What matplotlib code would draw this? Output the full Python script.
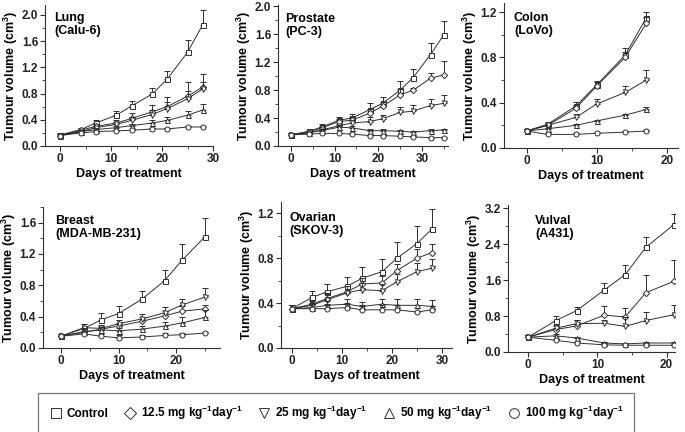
import matplotlib
matplotlib.use('Agg')
from matplotlib import pyplot as plt
from matplotlib.ticker import MultipleLocator
from matplotlib.lines import Line2D

plt.rcParams['font.family'] = ['Liberation Sans', 'DejaVu Sans']
plt.rcParams['font.weight'] = 'bold'
plt.rcParams['mathtext.fontset'] = 'custom'
plt.rcParams['mathtext.rm'] = 'Liberation Sans:bold'
plt.rcParams['mathtext.bf'] = 'Liberation Sans:bold'
plt.rcParams['mathtext.it'] = 'Liberation Sans:bold'

groups = ['Control', '12.5 mg kg$^{-1}$day$^{-1}$', '25 mg kg$^{-1}$day$^{-1}$',
          '50 mg kg$^{-1}$day$^{-1}$', '100 mg kg$^{-1}$day$^{-1}$']
markers = ['s', 'D', 'v', '^', 'o']

# ---- Lung (Calu-6)
lung_days = [0, 4, 7, 11, 14, 18, 21, 25, 28]
lung_vals = [
    [0.17, 0.25, 0.35, 0.47, 0.61, 0.79, 1.02, 1.43, 1.85],
    [0.16, 0.24, 0.30, 0.35, 0.42, 0.52, 0.60, 0.76, 0.90],
    [0.16, 0.22, 0.28, 0.33, 0.39, 0.48, 0.57, 0.72, 0.87],
    [0.16, 0.22, 0.25, 0.28, 0.31, 0.35, 0.39, 0.47, 0.55],
    [0.16, 0.20, 0.22, 0.23, 0.24, 0.26, 0.26, 0.29, 0.29],
]
lung_err = [
    [0.03, 0.03, 0.04, 0.07, 0.08, 0.10, 0.13, 0.18, 0.22],
    [0.03, 0.03, 0.04, 0.05, 0.08, 0.11, 0.15, 0.21, 0.20],
    [0.02, 0.02, 0.03, 0.04, 0.05, 0.07, 0.10, 0.12, 0.10],
    [0.02, 0.02, 0.02, 0.03, 0.03, 0.04, 0.05, 0.07, 0.09],
    [0.02, 0.01, 0.01, 0.01, 0.01, 0.01, 0.01, 0.01, 0.01],
]

# ---- Prostate (PC-3)
pros_days = [0, 4, 7, 11, 14, 18, 21, 25, 28, 32, 35]
pros_vals = [
    [0.16, 0.21, 0.27, 0.37, 0.40, 0.52, 0.61, 0.80, 0.98, 1.31, 1.59],
    [0.16, 0.20, 0.26, 0.35, 0.37, 0.47, 0.57, 0.73, 0.80, 0.97, 1.02],
    [0.16, 0.19, 0.23, 0.29, 0.33, 0.35, 0.39, 0.48, 0.50, 0.58, 0.61],
    [0.16, 0.19, 0.22, 0.27, 0.26, 0.22, 0.22, 0.21, 0.20, 0.22, 0.23],
    [0.16, 0.17, 0.18, 0.18, 0.17, 0.15, 0.15, 0.14, 0.13, 0.12, 0.12],
]
pros_err = [
    [0.02, 0.02, 0.04, 0.04, 0.06, 0.09, 0.09, 0.13, 0.13, 0.16, 0.20],
    [0.02, 0.02, 0.03, 0.04, 0.05, 0.06, 0.06, 0.08, 0.03, 0.08, 0.20],
    [0.02, 0.02, 0.02, 0.03, 0.04, 0.07, 0.06, 0.08, 0.09, 0.10, 0.12],
    [0.02, 0.01, 0.02, 0.03, 0.02, 0.02, 0.02, 0.02, 0.02, 0.02, 0.02],
    [0.02, 0.01, 0.01, 0.01, 0.01, 0.01, 0.01, 0.01, 0.01, 0.01, 0.01],
]

# ---- Colon (LoVo)
colon_days = [0, 3, 7, 10, 14, 17]
colon_vals = [
    [0.15, 0.21, 0.37, 0.56, 0.82, 1.15],
    [0.15, 0.20, 0.35, 0.55, 0.80, 1.10],
    [0.15, 0.20, 0.27, 0.39, 0.49, 0.60],
    [0.15, 0.17, 0.20, 0.24, 0.29, 0.34],
    [0.15, 0.12, 0.12, 0.13, 0.14, 0.15],
]
colon_err = [
    [0.02, 0.02, 0.04, 0.03, 0.06, 0.05],
    [0.02, 0.02, 0.03, 0.03, 0.05, 0.06],
    [0.02, 0.02, 0.03, 0.04, 0.06, 0.09],
    [0.02, 0.01, 0.01, 0.01, 0.01, 0.02],
    [0.02, 0.01, 0.01, 0.01, 0.01, 0.01],
]

# ---- Breast (MDA-MB-231)
breast_days = [0, 4, 7, 10, 14, 18, 21, 25]
breast_vals = [
    [0.15, 0.25, 0.36, 0.44, 0.62, 0.86, 1.12, 1.42],
    [0.15, 0.20, 0.24, 0.28, 0.34, 0.41, 0.47, 0.50],
    [0.15, 0.26, 0.25, 0.31, 0.37, 0.45, 0.55, 0.65],
    [0.15, 0.21, 0.23, 0.22, 0.24, 0.28, 0.32, 0.39],
    [0.15, 0.18, 0.15, 0.13, 0.14, 0.16, 0.17, 0.19],
]
breast_err = [
    [0.03, 0.06, 0.09, 0.10, 0.11, 0.14, 0.21, 0.24],
    [0.03, 0.04, 0.04, 0.04, 0.05, 0.06, 0.06, 0.05],
    [0.03, 0.05, 0.05, 0.05, 0.06, 0.07, 0.08, 0.11],
    [0.03, 0.04, 0.04, 0.04, 0.04, 0.05, 0.07, 0.10],
    [0.03, 0.03, 0.03, 0.03, 0.03, 0.03, 0.02, 0.02],
]

# ---- Ovarian (SKOV-3)
ovar_days = [0, 4, 7, 11, 14, 18, 21, 25, 28]
ovar_vals = [
    [0.35, 0.45, 0.50, 0.55, 0.62, 0.68, 0.80, 0.93, 1.06],
    [0.35, 0.39, 0.44, 0.50, 0.57, 0.58, 0.69, 0.80, 0.85],
    [0.35, 0.38, 0.43, 0.49, 0.52, 0.51, 0.59, 0.68, 0.71],
    [0.35, 0.36, 0.38, 0.39, 0.37, 0.39, 0.38, 0.38, 0.37],
    [0.35, 0.35, 0.35, 0.36, 0.34, 0.34, 0.34, 0.32, 0.34],
]
ovar_err = [
    [0.03, 0.06, 0.07, 0.08, 0.10, 0.11, 0.14, 0.16, 0.18],
    [0.03, 0.04, 0.05, 0.05, 0.05, 0.06, 0.06, 0.08, 0.08],
    [0.03, 0.04, 0.05, 0.06, 0.06, 0.06, 0.07, 0.08, 0.08],
    [0.03, 0.04, 0.04, 0.05, 0.04, 0.05, 0.06, 0.06, 0.06],
    [0.03, 0.04, 0.04, 0.04, 0.04, 0.04, 0.04, 0.04, 0.03],
]

# ---- Vulval (A431)
vulv_days = [0, 4, 7, 11, 14, 17, 21]
vulv_vals = [
    [0.33, 0.70, 0.92, 1.38, 1.72, 2.33, 2.83],
    [0.33, 0.50, 0.58, 0.82, 0.78, 1.32, 1.57],
    [0.33, 0.53, 0.63, 0.64, 0.57, 0.70, 0.83],
    [0.33, 0.36, 0.31, 0.20, 0.18, 0.20, 0.20],
    [0.33, 0.26, 0.20, 0.16, 0.15, 0.15, 0.15],
]
vulv_err = [
    [0.05, 0.10, 0.08, 0.16, 0.21, 0.22, 0.24],
    [0.05, 0.08, 0.14, 0.21, 0.20, 0.40, 0.47],
    [0.05, 0.06, 0.09, 0.08, 0.21, 0.18, 0.21],
    [0.05, 0.04, 0.03, 0.03, 0.03, 0.03, 0.03],
    [0.05, 0.03, 0.03, 0.03, 0.03, 0.03, 0.03],
]

panels = [
    ('Lung\n(Calu-6)', lung_days, lung_vals, lung_err),
    ('Prostate\n(PC-3)', pros_days, pros_vals, pros_err),
    ('Colon\n(LoVo)', colon_days, colon_vals, colon_err),
    ('Breast\n(MDA-MB-231)', breast_days, breast_vals, breast_err),
    ('Ovarian\n(SKOV-3)', ovar_days, ovar_vals, ovar_err),
    ('Vulval\n(A431)', vulv_days, vulv_vals, vulv_err),
]

# pixel boxes (left, right, top, bottom) of each axes in a 685x432 figure
boxes = [(45, 213, 5, 146), (278, 448, 5, 146), (504, 678, 3, 148),
         (43, 220, 207, 348), (281, 452, 202, 348), (508, 675, 205, 352)]
# where the panel name starts, pixels from the axes' top-left corner
name_off = [(9, 7), (7, 8), (10, 9), (12, 8), (8, 10), (27, 10)]
xlims = [(-3, 30), (-3, 36), (-3.2, 21.5), (-3.1, 27.6), (-2.2, 32), (-2.9, 21.2)]
ylims = [(0, 2.15), (0, 2.02), (0, 1.28), (0, 1.8), (0, 1.3), (0, 3.27)]
ymaj = [0.4, 0.4, 0.4, 0.4, 0.4, 0.8]
xmaj = [10, 10, 10, 10, 10, 10]

W, H = 685.0, 432.0
fig = plt.figure(figsize=(6.85, 4.32), dpi=100)
lc = '#303030'

for i, (name, days, vals, errs) in enumerate(panels):
    l, r, t, b = boxes[i]
    ax = fig.add_axes([l / W, 1 - b / H, (r - l) / W, (b - t) / H])
    for k in range(len(vals)):
        ax.errorbar(days, vals[k], yerr=[[0] * len(days), errs[k]], color=lc,
                    lw=0.7, elinewidth=0.7, capsize=2.2, capthick=0.7,
                    marker=markers[k], ms=3.6 if markers[k] != 'D' else 3.2,
                    mfc='white', mec=lc, mew=0.7, zorder=3 + k)
    ax.set_xlim(*xlims[i])
    ax.set_ylim(*ylims[i])
    ax.xaxis.set_major_locator(MultipleLocator(xmaj[i]))
    ax.xaxis.set_minor_locator(MultipleLocator(xmaj[i] / 2))
    ax.yaxis.set_major_locator(MultipleLocator(ymaj[i]))
    ax.yaxis.set_minor_locator(MultipleLocator(ymaj[i] / 2))
    ax.yaxis.set_major_formatter(matplotlib.ticker.FormatStrFormatter('%.1f'))
    for s in ['top', 'right']:
        ax.spines[s].set_visible(False)
    for s in ['left', 'bottom']:
        ax.spines[s].set_linewidth(0.8)
        ax.spines[s].set_color(lc)
    ax.tick_params(which='major', direction='out', length=3.5, width=0.8,
                   labelsize=8.5, colors=lc, labelcolor='#222222', pad=1.5)
    ax.tick_params(which='minor', direction='out', length=2, width=0.6, colors=lc)
    ax.set_xlabel('Days of treatment', fontsize=9, fontweight='bold', labelpad=2)
    ax.set_ylabel('Tumour volume (cm$^3$)', fontsize=9, fontweight='bold', labelpad=1)
    dx, dy = name_off[i]
    ax.text(dx / (r - l), 1 - dy / (b - t), name, transform=ax.transAxes,
            fontsize=9, fontweight='bold', va='top', ha='left', linespacing=1.1)

handles = [Line2D([], [], ls='none', marker=m, ms=7 if m != 'D' else 6, mfc='white',
                  mec=lc, mew=0.7) for m in markers]
leg = fig.legend(handles, groups, loc='center', ncol=5, frameon=True, fancybox=False,
                 bbox_to_anchor=(336 / W, 1 - 413 / H), fontsize=8.5,
                 handletextpad=0.3, columnspacing=1.25, borderpad=0.9,
                 handlelength=1.2)
leg.get_frame().set_edgecolor('#555555')
leg.get_frame().set_linewidth(0.9)
for txt in leg.get_texts():
    txt.set_fontweight('bold')

fig.savefig('out.png', dpi=100)
